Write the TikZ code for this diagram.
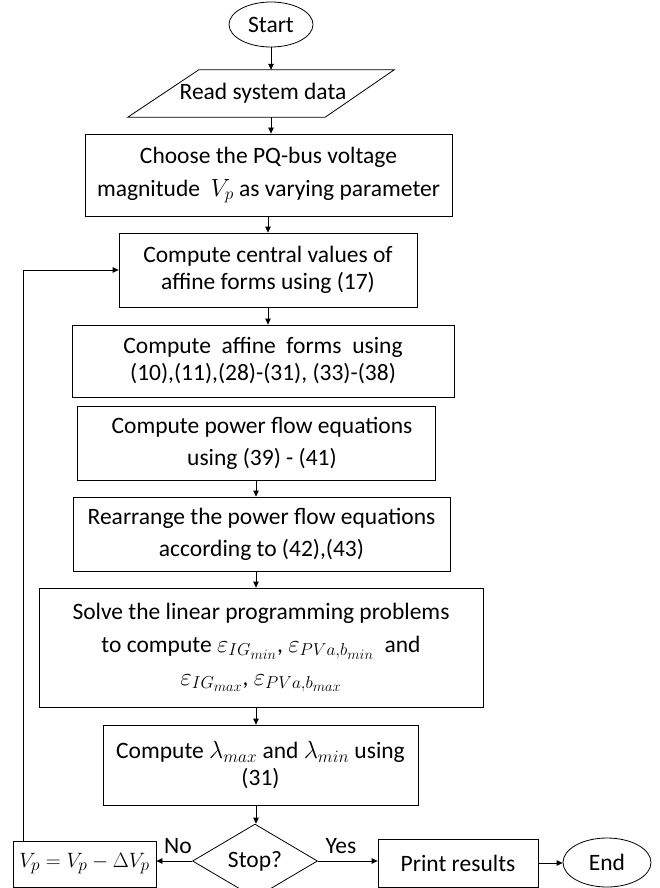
\documentclass[tikz,border=0pt]{standalone}
\usepackage{fontspec}
\setmainfont{Carlito}
\DeclareMathSizes{23.5}{23.5}{18}{15}
\DeclareMathSizes{21}{21}{16}{13}
\usetikzlibrary{shapes.geometric,arrows.meta,calc}
\begin{document}
\begin{tikzpicture}[x=1pt,y=-1pt,
  every node/.style={font=\fontsize{23.5}{27}\selectfont},
  box/.style={draw, line width=0.8pt, align=center, inner sep=0pt},
  term/.style={draw, ellipse, line width=0.8pt, inner sep=0pt},
  line/.style={line width=0.8pt},
  arr/.style={-{Triangle[length=6pt,width=5.5pt]}, line width=0.8pt}]
\useasboundingbox (0,0) rectangle (660,888);

\node[term, minimum width=84pt, minimum height=45pt] (start) at (271,24.5) {Start};
\node[inner sep=0pt, minimum width=196pt, minimum height=47pt] (read) at (263,93.5) {Read system data};
\draw[line] ($(read.south west)+(-37,0)$) -- ($(read.north west)+(34,0)$) -- ($(read.north east)+(33,0)$) -- ($(read.south east)+(-36,0)$) -- cycle;

\node[box, minimum width=367pt, minimum height=82pt] (choose) at (268.5,175)
  {Choose the PQ-bus voltage\\[6pt] magnitude\ \ $V_p$ as varying parameter};
\node[box, minimum width=298pt, minimum height=74pt] (central) at (268,270)
  {Compute central values of\\ affine forms using (17)};
\node[box, minimum width=382pt, minimum height=72pt] (affine) at (263,361)
  {Compute\ \ affine\ \ forms\ \ using\\ (10),(11),(28)-(31), (33)-(38)};
\node[box, minimum width=358pt, minimum height=74pt] (pflow) at (256,443)
  {\hspace*{12pt}Compute power flow equations\\[5pt] \hspace*{12pt}using (39) - (41)};
\node[box, minimum width=377pt, minimum height=74pt] (rearr) at (261.5,534)
  {Rearrange the power flow equations\\[5pt] according to (42),(43)};
\node[box, minimum width=444pt, minimum height=119pt] (solve) at (261,647.5)
  {Solve the linear programming problems\\[6pt]
   to compute $\varepsilon_{IG_{min}}$, $\varepsilon_{PVa,b_{min}}$\ \ and\\[6pt]
   $\varepsilon_{IG_{max}}$, $\varepsilon_{PVa,b_{max}}$};
\node[box, minimum width=315pt, minimum height=80pt] (lam) at (260.5,765)
  {Compute $\lambda_{max}$ and $\lambda_{min}$ using\\ (31)};

\node[draw, diamond, line width=0.8pt, inner sep=0pt, minimum width=125pt, minimum height=54pt] (stop) at (255,861) {Stop?};
\node[box, minimum width=143pt, minimum height=46pt, font=\fontsize{21}{25}\selectfont] (vp) at (84.5,864) {$V_p = V_p - \Delta V_p$};
\node[box, minimum width=160pt, minimum height=48pt] (print) at (458,863) {Print results};
\node[term, minimum width=88pt, minimum height=49pt] (end) at (607,862.5) {End};

\node (no) at (178,846) {No};
\node (yes) at (341,846) {Yes};

\draw[arr] (start.south) -- (start.south |- read.north);
\draw[arr] (read.south -| start.south) -- (choose.north -| start.south);
\draw[arr] (choose.south -| central.north) -- (central.north);
\draw[arr] (central.south) -- (central.south |- affine.north);
\draw[arr] (pflow.south) -- (pflow.south |- rearr.north);
\draw[arr] (rearr.south -| pflow.south) -- (solve.north -| pflow.south);
\draw[arr] (solve.south -| pflow.south) -- (lam.north -| pflow.south);
\draw[arr] (lam.south -| pflow.south) -- (stop.north -| pflow.south);
\draw[arr] (stop.west) -- (stop.west -| vp.east);
\draw[arr] (stop.east) -- (stop.east -| print.west);
\draw[arr] (print.east) -- (print.east -| end.west);
\draw[arr] ([xshift=-61.5pt]vp.north) |- (central.west);
\end{tikzpicture}
\end{document}
